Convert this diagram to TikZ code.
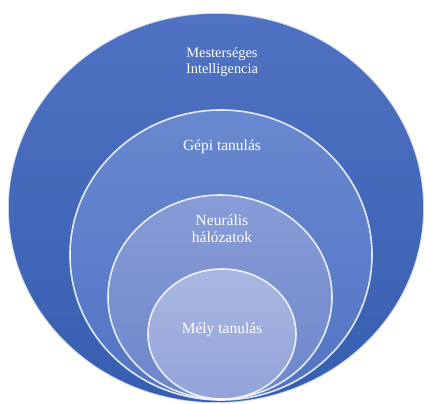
\documentclass[tikz,border=0pt]{standalone}
\usepackage{fontspec}
\setmainfont{Liberation Serif}
\tikzset{
	korlap/.style={draw=white,line width=1.6pt,draw opacity=0.85},
	felirat/.style={text=white,font=\fontsize{15.5}{17}\selectfont,align=center}
}
\begin{document}
\begin{tikzpicture}[x=1pt,y=-1pt]
	\useasboundingbox (0,0) rectangle (426,404);
	%körök
	\coordinate (MI) at (216,208);
	\coordinate (GT) at (221,255);
	\coordinate (NH) at (220,297);
	\coordinate (MT) at (222,334);
	\shade [top color={rgb,255:red,80;green,114;blue,194},bottom color={rgb,255:red,54;green,94;blue,176}] (MI) ellipse [x radius=208pt,y radius=195pt];
	\draw [korlap,draw opacity=0.7] (MI) ellipse [x radius=208pt,y radius=195pt];
	\shade [top color={rgb,255:red,104;green,136;blue,207},bottom color={rgb,255:red,82;green,116;blue,196}] (GT) ellipse [x radius=151pt,y radius=145pt];
	\draw [korlap] (GT) ellipse [x radius=151pt,y radius=145pt];
	\shade [top color={rgb,255:red,136;green,157;blue,215},bottom color={rgb,255:red,108;green,134;blue,202}] (NH) ellipse [x radius=112pt,y radius=102pt];
	\draw [korlap] (NH) ellipse [x radius=112pt,y radius=102pt];
	\shade [top color={rgb,255:red,170;green,183;blue,227},bottom color={rgb,255:red,146;green,163;blue,216}] (MT) ellipse [x radius=74pt,y radius=65pt];
	\draw [korlap] (MT) ellipse [x radius=74pt,y radius=65pt];
	%feliratok
	\node [felirat,font=\fontsize{14.4}{16}\selectfont] (mi) at (222,62) {Mesterséges\\Intelligencia};
	\node [felirat] (gt) at (222,147) {Gépi tanulás};
	\node [felirat] (nh) at (222,229) {Neurális\\hálózatok};
	\node [felirat] (mt) at (222,330) {Mély tanulás};
\end{tikzpicture}
\end{document}
